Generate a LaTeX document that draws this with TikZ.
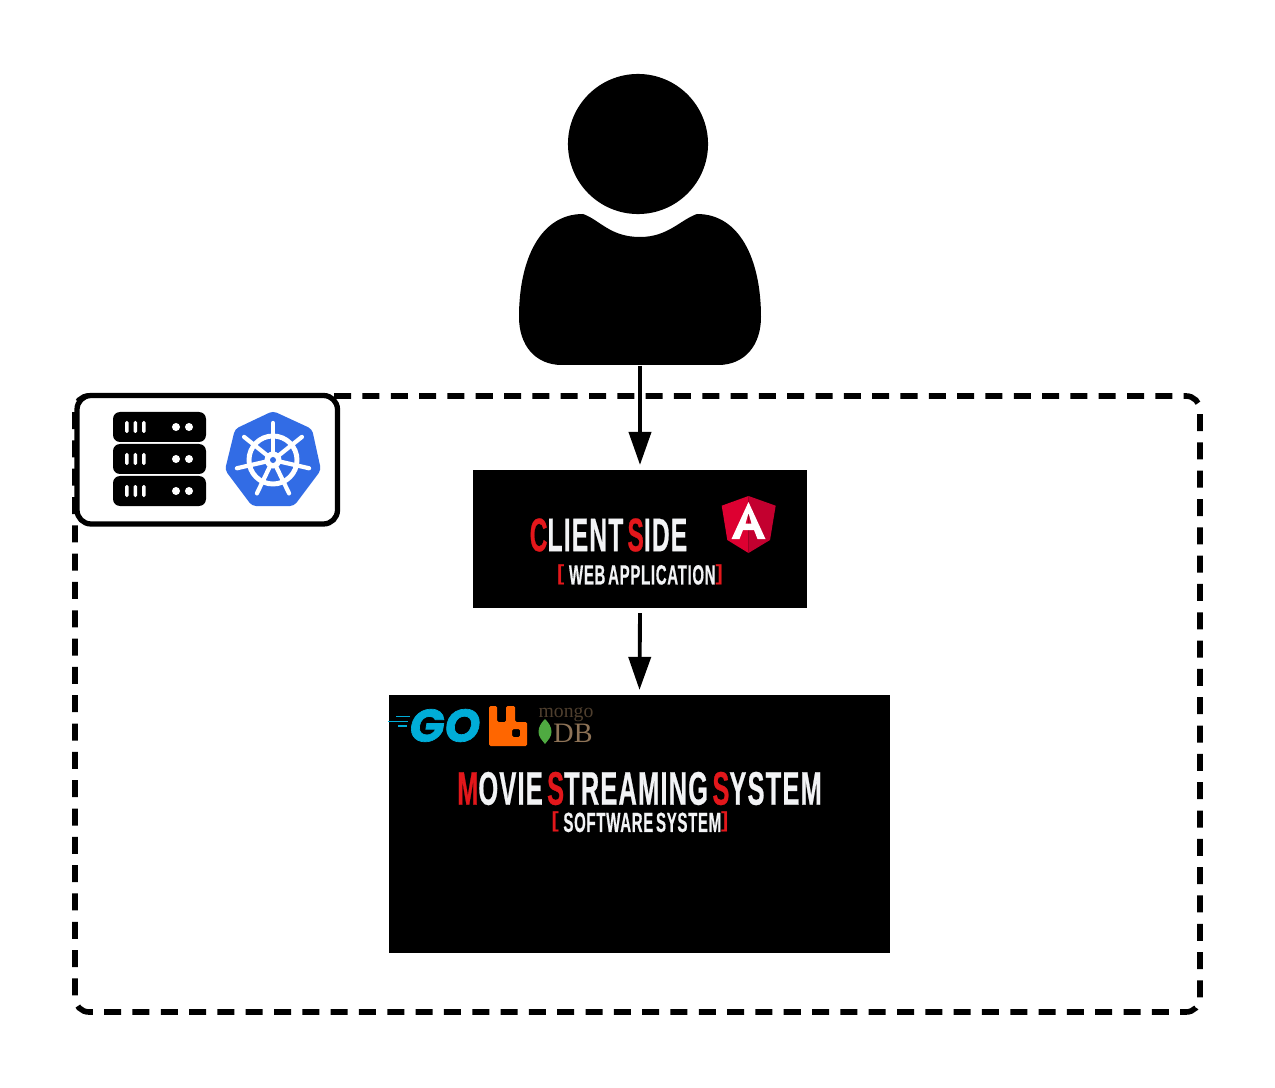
\documentclass[tikz,border=0pt]{standalone}
\usepackage{fontspec}
\usepackage{xcolor}
\usepackage{tikz}
\usetikzlibrary{arrows.meta,positioning}
\newfontfamily\posterfont[FakeStretch=0.54,LetterSpace=2.5,BoldFeatures={FakeBold=0.5}]{Liberation Sans}
\newfontfamily\clientfont[FakeStretch=0.522,LetterSpace=2.5,BoldFeatures={FakeBold=0.5}]{Liberation Sans}
\newfontfamily\bracketfont{Liberation Sans}
\newfontfamily\leaffont{Liberation Serif}
\newfontfamily\gofont[BoldItalicFeatures={FakeBold=1.5}]{Poppins}
\definecolor{inkred}{HTML}{E3171B}
\definecolor{paper}{HTML}{F2F3F5}
\definecolor{kube}{HTML}{326CE5}
\definecolor{ngleft}{HTML}{DD0031}
\definecolor{ngright}{HTML}{C3002F}
\definecolor{gocyan}{HTML}{00ADD8}
\definecolor{rabbit}{HTML}{FF6600}
\definecolor{mongotop}{HTML}{4F3F2E}
\definecolor{mongodb}{HTML}{8E7357}
\definecolor{leaf}{HTML}{4FAA41}
\newcommand{\rd}[1]{\textcolor{inkred}{#1}}
\newcommand{\gapw}{\kern 0.9pt}
\newcommand{\brk}[1]{\textcolor{inkred}{\raisebox{1.25pt}{\bracketfont\bfseries\fontsize{6.2}{7}\selectfont #1}}}
\tikzset{
  blackbox/.style={fill=black,inner sep=0pt,outer sep=0.05cm},
  titlelbl/.style={font=\posterfont\bfseries\fontsize{13.4}{14}\selectfont,text=paper,inner sep=0pt},
  clientlbl/.style={font=\clientfont\bfseries\fontsize{13.4}{14}\selectfont,text=paper,inner sep=0pt},
  sublbl/.style={font=\posterfont\bfseries\fontsize{7.9}{9}\selectfont,text=paper,inner sep=0pt},
  arrow/.style={-{Triangle[length=0.33cm,width=0.22cm]},line width=1.1pt,color=black},
  zone/.style={draw=black,line width=1.6pt,rounded corners=0.14cm,dash pattern=on 0.17cm off 0.113cm,dash phase=0.097cm},
  tag/.style={draw=black,fill=white,line width=1.5pt,rounded corners=0.14cm},
  rack/.style={fill=black,rounded corners=0.07cm},
  pin/.style={fill=white,rounded corners=0.015cm},
  spoke/.style={draw=white,line width=1.2pt,line cap=round},
  speed/.style={draw=gocyan,line width=0.4pt},
}
\begin{document}
\begin{tikzpicture}[x=0.01cm,y=-0.01cm]
    \useasboundingbox (0,0) rectangle (1275,1088);
    % deployment zone
    \draw[zone] (75,396) -- (1200,396) -- (1200,1012) -- (75,1012) -- cycle;
    \draw[tag] (77,395.5) rectangle (337.5,524);
    % server rack
    \foreach \ry in {412,444,476} {
      \fill[rack] (113,\ry) rectangle (206,\ry+30);
      \foreach \rx in {125,133.5,142} {
        \fill[pin] (\rx,\ry+9) rectangle (\rx+3.6,\ry+21);
      }
      \fill[white] (176,\ry+15) circle (0.04cm);
      \fill[white] (189,\ry+15) circle (0.04cm);
    }
    % kubernetes
    \fill[kube,rounded corners=0.04cm] (273,411) -- (312,429) -- (321,470) -- (294,506) -- (252,506) -- (225,470) -- (235,429) -- cycle;
    \draw[white,line width=1.4pt] (273,460) circle (0.24cm);
    \foreach \ang in {90,141.4,192.9,244.3,295.7,347.1,38.6} {
      \draw[spoke] (273,460) -- ++(\ang:0.37cm);
    }
    \fill[white] (273,460) circle (0.085cm);
    \fill[kube] (273,460) circle (0.03cm);
    % person
    \fill[black] (638,144) circle (0.7cm);
    \fill[black] (583,214) .. controls (600,220) and (610,237) .. (640,237) .. controls (668,237) and (680,220) .. (697,214) .. controls (740,214) and (761,260) .. (761,317) .. controls (761,345) and (745,365) .. (718,365) -- (562,365) .. controls (535,365) and (519,345) .. (519,317) .. controls (519,260) and (540,214) .. (583,214) -- cycle;
    \node[minimum width=2.42cm,minimum height=1.5cm,inner sep=0pt] (user) at (640,290) {};
    % boxes
    \node[blackbox,minimum width=3.34cm,minimum height=1.38cm] (client) at (640,539) {};
    \node[blackbox,minimum width=5.01cm,minimum height=2.58cm] (system) at (639.5,824) {};
    \node[clientlbl] (clienttitle) at (608.5,535) {\rd{C}LIENT\gapw\ \kern-2pt\rd{S}IDE};
    \node[sublbl] (clientsub) at (640,574.5) {\brk{[}\,WEB\gapw\ \kern-1.5pt APPLICATION\brk{]}};
    \node[titlelbl] (systemtitle) at (639.5,788.5) {\rd{M}OVIE\gapw\ \kern-2pt\rd{S}TREAMING\gapw\ \kern-2pt\rd{S}YSTEM};
    \node[sublbl] (systemsub) at (640,822) {\brk{[}\,SOFTWARE\gapw\ \kern-1.5pt SYSTEM\brk{]}};
    % angular
    \fill[ngleft] (748.5,496) -- (721.7,505.7) -- (727.3,540) -- (748.5,553) -- cycle;
    \fill[ngright] (748.5,496) -- (775.7,505.7) -- (770,540) -- (748.5,553) -- cycle;
    \fill[white,even odd rule] (748.5,502) -- (731.5,539) -- (739.5,539) -- (743,530) -- (754,530) -- (757.5,539) -- (765.5,539) -- cycle (748.5,513) -- (745.5,523.5) -- (751.5,523.5) -- cycle;
    % go
    \node[font=\gofont\bfseries\itshape\fontsize{13}{14}\selectfont,text=gocyan,inner sep=0pt] (golang) at (445,725.5) {GO};
    \draw[speed] (396,716.7) -- (410,716.7);
    \draw[speed] (388,721.7) -- (408,721.7);
    \draw[speed] (398,726) -- (407,726);
    % rabbit
    \fill[rabbit,rounded corners=0.015cm,even odd rule] (489,706) -- (497,706) -- (497,722) -- (506,722) -- (506,706) -- (515,706) -- (515,722) -- (527,722) -- (527,746) -- (489,746) -- cycle (512,729) rectangle (520,737);
    % mongo
    \node[font=\leaffont\fontsize{5.6}{6}\selectfont,text=mongotop,inner sep=0pt] (mongotxt) at (566,715) {mongo};
    \node[font=\leaffont\fontsize{8}{9}\selectfont,text=mongodb,inner sep=0pt] (dbtxt) at (573,733.5) {DB};
    \fill[leaf] (545,719) .. controls (549,723) and (551.5,727) .. (551.5,732) .. controls (551.5,737) and (548,740) .. (545,744) .. controls (542,740) and (538.5,737) .. (538.5,732) .. controls (538.5,727) and (541,723) .. (545,719) -- cycle;
    % connectors
    \draw[arrow] (user.south) -- (client.north);
    \draw[arrow] (client.south) -- (system.north);
  \end{tikzpicture}
\end{document}
